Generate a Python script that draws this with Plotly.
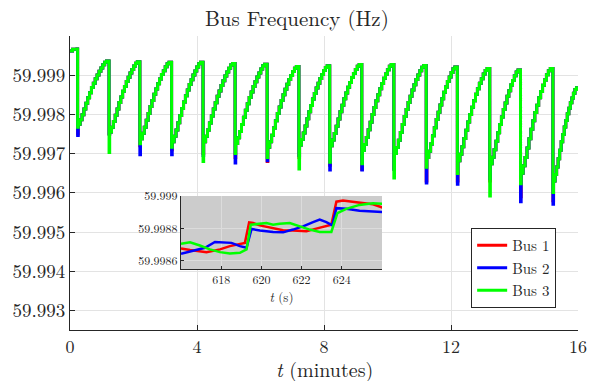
import plotly.graph_objects as go

# ---------------- main plot data ----------------
INIT_MIN = [0.0, 0.08]
INIT_HZ = [59.99962, 59.99966]
DROP_MIN = [0.22, 1.21, 2.18, 3.18, 4.17, 5.18, 6.19, 7.19, 8.16, 9.17,
            10.18, 11.20, 12.18, 13.20, 14.17, 15.19]
PEAK_HZ = [59.99967, 59.99936, 59.99934, 59.99933, 59.99933, 59.99930, 59.99928, 59.99922,
           59.99924, 59.99927, 59.99927, 59.99925, 59.99921, 59.99917, 59.99913, 59.99917]
PLATEAU_HZ = [59.99775, 59.99755, 59.99738, 59.99730, 59.99730, 59.99726, 59.99716, 59.99722,
              59.99720, 59.99708, 59.99700, 59.99690, 59.99682, 59.99674, 59.99650, 59.99630]
TROUGH_BUS1 = [59.99750, 59.99750, 59.99720, 59.99710, 59.99700, 59.99690, 59.99680, 59.99690,
               59.99670, 59.99660, 59.99660, 59.99630, 59.99630, 59.99630, 59.99590, 59.99580]
TROUGH_BUS2 = [59.99746, 59.99750, 59.99697, 59.99697, 59.99695, 59.99676, 59.99682, 59.99695,
               59.99658, 59.99658, 59.99660, 59.99625, 59.99622, 59.99636, 59.99577, 59.99571]
TROUGH_BUS3 = [59.99767, 59.99703, 59.99725, 59.99716, 59.99680, 59.99700, 59.99690, 59.99661,
               59.99678, 59.99674, 59.99638, 59.99665, 59.99649, 59.99592, 59.99623, 59.99601]
END_MIN = 16.0
END_HZ = 59.99868
RISE_FRAC = [0.0, 0.07, 0.15, 0.24, 0.33, 0.42, 0.50, 0.58, 0.65, 0.72, 0.78, 0.84, 0.89,
             0.94, 0.98, 1.0]

X_TICKS = [0, 4, 8, 12, 16]
Y_TICKS = [59.993, 59.994, 59.995, 59.996, 59.997, 59.998, 59.999]
Y_TICK_TEXT = ["59.993", "59.994", "59.995", "59.996", "59.997", "59.998", "59.999"]

# ---------------- inset data (t in s) ----------------
IN_T_BUS1 = [616.0, 616.45, 617.27, 617.94, 618.43, 618.93, 619.18, 619.39, 619.59, 619.92,
             620.58, 621.08, 621.57, 622.24, 622.73, 623.23, 623.48, 623.73, 624.06, 624.72,
             625.55, 626.2]
IN_V_BUS1 = [59.998677, 59.998667, 59.998654, 59.998671, 59.998691, 59.998705, 59.998711, 59.998837,
             59.998833, 59.998819, 59.998803, 59.998789, 59.998787, 59.998783, 59.998799, 59.998813,
             59.998823, 59.998965, 59.998972, 59.998961, 59.998949, 59.998921]
IN_T_BUS2 = [616.0, 616.61, 617.19, 617.69, 618.18, 618.51, 618.93, 619.26, 619.51, 619.92,
             620.58, 621.08, 621.57, 622.07, 622.57, 622.90, 623.23, 623.53, 623.73, 624.22,
             624.88, 625.55, 626.2]
IN_V_BUS2 = [59.998644, 59.998661, 59.998681, 59.998717, 59.998711, 59.998711, 59.998691, 59.998681,
             59.998797, 59.998787, 59.998778, 59.998776, 59.998793, 59.998813, 59.998839, 59.998854,
             59.998839, 59.998819, 59.998925, 59.998921, 59.998909, 59.998904, 59.998900]
IN_T_BUS3 = [616.0, 616.45, 616.94, 617.44, 617.94, 618.43, 618.93, 619.26, 619.47, 619.92,
             620.25, 620.58, 620.91, 621.41, 621.91, 622.40, 622.90, 623.48, 623.78, 624.22,
             624.88, 625.55, 626.2]
IN_V_BUS3 = [59.998705, 59.998715, 59.998695, 59.998671, 59.998654, 59.998646, 59.998650, 59.998671,
             59.998823, 59.998829, 59.998833, 59.998823, 59.998829, 59.998833, 59.998813, 59.998793,
             59.998778, 59.998778, 59.998894, 59.998921, 59.998945, 59.998955, 59.998951]
IN_XRANGE = [616.0, 626.0]
IN_YRANGE = [59.99855, 59.999]
IN_X_TICKS = [618, 620, 622, 624]
IN_Y_TICKS = [59.9986, 59.9988, 59.999]
IN_Y_TICK_TEXT = ["59.9986", "59.9988", "59.999"]

NAMES = ["Bus 1", "Bus 2", "Bus 3"]
COLORS = ["#ff0000", "#0000ff", "#00ff00"]


def build(trough):
    t = list(INIT_MIN)
    v = list(INIT_HZ)
    n = len(RISE_FRAC)
    for i, d in enumerate(DROP_MIN):
        t.append(d)
        v.append(PEAK_HZ[i])
        t.append(d + 0.02)
        v.append(trough[i])
        if i + 1 < len(DROP_MIN):
            nt, nv = DROP_MIN[i + 1], PEAK_HZ[i + 1]
        else:
            nt, nv = END_MIN, END_HZ
        t0 = d + 0.04
        for k, f in enumerate(RISE_FRAC):
            t.append(t0 + (nt - t0) * k / n)
            v.append(PLATEAU_HZ[i] + f * (nv - PLATEAU_HZ[i]))
    t.append(END_MIN)
    v.append(END_HZ)
    return t, v


FONT = "Latin Modern Roman"
TXT = "#262626"

fig = go.Figure()
for name, col, tr in zip(NAMES, COLORS, [TROUGH_BUS1, TROUGH_BUS2, TROUGH_BUS3]):
    t, v = build(tr)
    fig.add_trace(go.Scatter(x=t, y=v, mode="lines", name=name,
                             line=dict(color=col, width=3, shape="hv"),
                             xaxis="x", yaxis="y"))

for name, col, tt, vv in zip(NAMES, COLORS, [IN_T_BUS1, IN_T_BUS2, IN_T_BUS3],
                             [IN_V_BUS1, IN_V_BUS2, IN_V_BUS3]):
    fig.add_trace(go.Scatter(x=tt, y=vv, mode="lines", name=name, showlegend=False,
                             line=dict(color=col, width=2.5),
                             xaxis="x2", yaxis="y2"))

fig.add_shape(type="rect", xref="x2", yref="y2",
              x0=IN_XRANGE[0], x1=IN_XRANGE[1], y0=IN_YRANGE[0], y1=IN_YRANGE[1],
              fillcolor="#cccccc", line=dict(width=0), layer="below")

# main x-axis title as a paper-anchored annotation (centred under the plot)
fig.add_annotation(text="<i>t</i> (minutes)", xref="paper", yref="paper",
                   x=0.5, y=-0.131, xanchor="center", yanchor="middle", showarrow=False,
                   font=dict(family=FONT, size=20, color=TXT))

axis_common = dict(showline=True, linecolor=TXT, linewidth=1, ticks="inside",
                   tickcolor=TXT, zeroline=False, showgrid=True, automargin=False)

fig.update_layout(
    width=589, height=381, autosize=False,
    margin=dict(l=70, r=11, t=36, b=51, autoexpand=False),
    paper_bgcolor="white", plot_bgcolor="white",
    font=dict(family=FONT, color=TXT),
    title=dict(text="Bus Frequency (Hz)", x=0.504, xref="container", xanchor="center",
               y=0.952, yref="container", yanchor="middle", automargin=False,
               font=dict(family=FONT, size=21, color=TXT)),
    showlegend=True,
    legend=dict(x=0.957, xanchor="right", y=0.347, yanchor="top",
                bgcolor="white", bordercolor=TXT, borderwidth=1,
                font=dict(family=FONT, size=15, color=TXT),
                itemwidth=30, tracegroupgap=0),
    xaxis=dict(domain=[0, 1], range=[0, 16], tickvals=X_TICKS, ticklen=5,
               gridcolor="#e3e3e3", tickfont=dict(family=FONT, size=18, color=TXT),
               **axis_common),
    yaxis=dict(domain=[0, 1], range=[59.9925, 60.0], tickvals=Y_TICKS, ticktext=Y_TICK_TEXT,
               ticklen=5, gridcolor="#e3e3e3",
               tickfont=dict(family=FONT, size=19, color=TXT), **axis_common),
    xaxis2=dict(domain=[0.2185, 0.6142], range=IN_XRANGE, anchor="y2", tickvals=IN_X_TICKS,
                ticklen=3, gridcolor="#dcdcdc",
                tickfont=dict(family=FONT, size=12, color=TXT),
                title=dict(text="<i>t</i> (s)", font=dict(family=FONT, size=13, color=TXT),
                           standoff=2),
                **axis_common),
    yaxis2=dict(domain=[0.2075, 0.4558], range=IN_YRANGE, anchor="x2", tickvals=IN_Y_TICKS,
                ticktext=IN_Y_TICK_TEXT, ticklen=3, gridcolor="#dcdcdc",
                tickfont=dict(family=FONT, size=12, color=TXT), **axis_common),
)

fig.write_html("out.html")
